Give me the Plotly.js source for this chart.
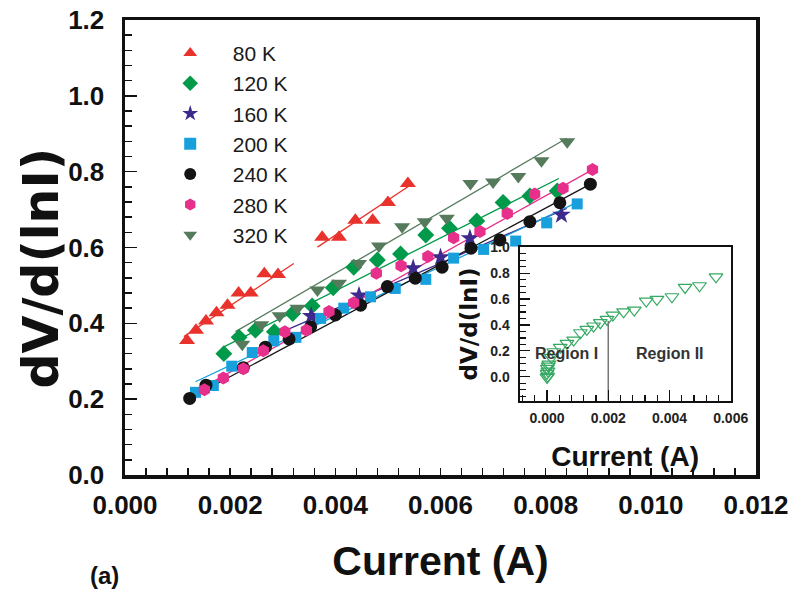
<!DOCTYPE html>
<html>
<head>
<meta charset="utf-8">
<script src="https://cdn.plot.ly/plotly-3.0.1.min.js"></script>
<style>
  html, body { margin: 0; padding: 0; background: #fff; }
  #chart { width: 795px; height: 592px; }
</style>
</head>
<body>
<div id="chart"></div>
<script>
// Differential resistance dV/d(lnI) versus current at seven temperatures
const temps = ['80 K', '120 K', '160 K', '200 K', '240 K', '280 K', '320 K'];

const I80  = [0.00118, 0.00135, 0.00154, 0.00174, 0.00195, 0.00216, 0.00239, 0.00265, 0.00291, 0.00375, 0.00407, 0.00438, 0.00471, 0.00500, 0.00538];
const V80  = [0.355, 0.382, 0.406, 0.428, 0.448, 0.480, 0.480, 0.531, 0.529, 0.627, 0.627, 0.672, 0.672, 0.719, 0.769];

const I120 = [0.00188, 0.00217, 0.00248, 0.00284, 0.00319, 0.00356, 0.00396, 0.00435, 0.00480, 0.00524, 0.00572, 0.00617, 0.00669, 0.00719, 0.00770, 0.00822];
const V120 = [0.320, 0.363, 0.382, 0.378, 0.426, 0.446, 0.494, 0.548, 0.567, 0.583, 0.633, 0.651, 0.670, 0.719, 0.736, 0.749];

const I160 = [0.00354, 0.00445, 0.00548, 0.00600, 0.00656, 0.00830];
const V160 = [0.419, 0.473, 0.545, 0.574, 0.624, 0.686];

const I200 = [0.00134, 0.00168, 0.00203, 0.00242, 0.00283, 0.00325, 0.00372, 0.00416, 0.00467, 0.00514, 0.00572, 0.00625, 0.00682, 0.00743, 0.00802, 0.00860];
const V200 = [0.218, 0.236, 0.287, 0.323, 0.354, 0.363, 0.413, 0.440, 0.470, 0.492, 0.516, 0.572, 0.595, 0.617, 0.665, 0.715];

const I240 = [0.00123, 0.00154, 0.00225, 0.00267, 0.00312, 0.00353, 0.00400, 0.00448, 0.00499, 0.00552, 0.00603, 0.00658, 0.00713, 0.00770, 0.00827, 0.00885];
const V240 = [0.202, 0.237, 0.283, 0.337, 0.359, 0.391, 0.422, 0.448, 0.497, 0.519, 0.548, 0.598, 0.620, 0.668, 0.718, 0.767];

const I280 = [0.00151, 0.00187, 0.00225, 0.00263, 0.00304, 0.00345, 0.00388, 0.00435, 0.00478, 0.00525, 0.00576, 0.00625, 0.00675, 0.00727, 0.00779, 0.00833, 0.00889];
const V280 = [0.225, 0.256, 0.280, 0.328, 0.378, 0.382, 0.431, 0.454, 0.532, 0.552, 0.576, 0.626, 0.642, 0.690, 0.741, 0.756, 0.806];

const I320 = [0.00223, 0.00259, 0.00294, 0.00328, 0.00366, 0.00407, 0.00445, 0.00483, 0.00527, 0.00570, 0.00612, 0.00657, 0.00700, 0.00748, 0.00792, 0.00841];
const V320 = [0.345, 0.396, 0.420, 0.440, 0.488, 0.506, 0.558, 0.604, 0.655, 0.668, 0.677, 0.769, 0.773, 0.787, 0.829, 0.879];

// Linear fits: [start, end] of each fitted segment
const fit80aI = [0.00112, 0.00321], fit80aV = [0.365, 0.558];
const fit80bI = [0.00366, 0.00543], fit80bV = [0.601, 0.765];
const fit120I = [0.00188, 0.00825], fit120V = [0.338, 0.782];
const fit160I = [0.00300, 0.00840], fit160V = [0.378, 0.703];
const fit200I = [0.00134, 0.00863], fit200V = [0.246, 0.721];
const fit240I = [0.00120, 0.00885], fit240V = [0.200, 0.767];
const fit280I = [0.00140, 0.00890], fit280V = [0.225, 0.806];
const fit320I = [0.00210, 0.00840], fit320V = [0.378, 0.888];

// Inset: full sweep at 320 K with the two conduction regions
const insetI = [0, 0.00002, 0, 0.00003, 0.00001, 0.00004, 0.00006, 0.00014, 0.00022, 0.00043, 0.00065, 0.00087, 0.00109, 0.00130, 0.00152, 0.00174, 0.00196, 0.00215, 0.00250, 0.00285, 0.00324, 0.00359, 0.00408, 0.00451, 0.00498, 0.00552];
const insetV = [-0.005, 0.005, 0.026, 0.044, 0.065, 0.082, 0.098, 0.150, 0.193, 0.227, 0.258, 0.283, 0.340, 0.366, 0.392, 0.418, 0.443, 0.476, 0.502, 0.515, 0.585, 0.598, 0.618, 0.690, 0.703, 0.772];
const regionBoundary = 0.002;
const regionBoundaryTop = 0.43;
const regionLabels = ['Region I', 'Region II'];
const regionLabelI = [0.00065, 0.00402];
const regionLabelV = 0.176;

const colors = ['#e8322b', '#009a4a', '#3d2a8c', '#18a0dc', '#141414', '#e6308c', '#567b5c'];
const symbols = ['triangle-up', 'diamond', 'star', 'square', 'circle', 'hexagon', 'triangle-down'];
const sizes = [14, 13, 14, 11, 13, 13, 14];

const seriesI = [I80, I120, I160, I200, I240, I280, I320];
const seriesV = [V80, V120, V160, V200, V240, V280, V320];
const fits = [
  [0, fit80aI, fit80aV], [0, fit80bI, fit80bV], [1, fit120I, fit120V], [2, fit160I, fit160V],
  [3, fit200I, fit200V], [4, fit240I, fit240V], [5, fit280I, fit280V], [6, fit320I, fit320V]
];

const BOLD = 'Liberation Sans, Arial, sans-serif';
const traces = [];

fits.forEach(([k, fx, fy]) => {
  traces.push({
    x: fx, y: fy, type: 'scatter', mode: 'lines', showlegend: false, hoverinfo: 'skip',
    line: { color: colors[k], width: 1.3 }, xaxis: 'x', yaxis: 'y'
  });
});

temps.forEach((name, k) => {
  traces.push({
    x: seriesI[k], y: seriesV[k], type: 'scatter', mode: 'markers', name: name,
    marker: { symbol: symbols[k], color: colors[k], size: sizes[k], line: { width: 0 } },
    xaxis: 'x', yaxis: 'y'
  });
});

traces.push({
  x: insetI, y: insetV, type: 'scatter', mode: 'markers', showlegend: false,
  marker: { symbol: 'triangle-down-open', color: '#35a862', size: 12, line: { width: 1.2 } },
  xaxis: 'x2', yaxis: 'y2'
});
traces.push({
  x: [regionBoundary, regionBoundary], y: [-0.185, regionBoundaryTop], type: 'scatter', mode: 'lines',
  showlegend: false, line: { color: '#777', width: 1.5 }, xaxis: 'x2', yaxis: 'y2'
});

const layout = {
  width: 795, height: 592,
  margin: { l: 124.5, r: 39, t: 20, b: 117, pad: 0 },
  paper_bgcolor: '#fff', plot_bgcolor: 'rgba(0,0,0,0)',
  showlegend: true,
  legend: {
    x: 0.036, y: 0.972, xanchor: 'left', yanchor: 'top',
    font: { family: 'Liberation Sans, Arial, sans-serif', size: 21, color: '#1a1a1a' },
    itemwidth: 75, itemsizing: 'constant', bgcolor: 'rgba(0,0,0,0)', borderwidth: 0, tracegroupgap: 0
  },
  xaxis: {
    domain: [0, 1], range: [0, 0.012], dtick: 0.002, tickformat: '.3f',
    ticks: 'inside', ticklen: 7, tickwidth: 1.5, tickcolor: '#111',
    minor: { dtick: 0.0004, ticks: 'inside', ticklen: 7, tickwidth: 1.5, tickcolor: '#111' },
    showline: true, linewidth: 3.5, linecolor: '#111', mirror: true,
    showgrid: false, zeroline: false, ticklabelstandoff: 4,
    tickfont: { family: BOLD, size: 26, weight: 'bold', color: '#111' },
    title: { text: 'Current (A)', font: { family: BOLD, size: 41, weight: 'bold', color: '#111' }, standoff: 28 }
  },
  yaxis: {
    domain: [0, 1], range: [0, 1.2], dtick: 0.2, tickformat: '.1f',
    ticks: 'inside', ticklen: 12, tickwidth: 1.5, tickcolor: '#111',
    minor: { dtick: 0.04, ticks: 'inside', ticklen: 7, tickwidth: 1.5, tickcolor: '#111' },
    showline: true, linewidth: 3.5, linecolor: '#111', mirror: true,
    showgrid: false, zeroline: false, ticklabelstandoff: 12,
    tickfont: { family: BOLD, size: 26, weight: 'bold', color: '#111' }
  },
  xaxis2: {
    domain: [0.6252, 0.9599], range: [-0.0009, 0.006], anchor: 'y2', dtick: 0.002, tickformat: '.3f',
    ticks: 'inside', ticklen: 11, tickwidth: 1.2, tickcolor: '#111',
    minor: { dtick: 0.0004, ticks: 'inside', ticklen: 6, tickwidth: 1.2, tickcolor: '#111' },
    showline: true, linewidth: 2, linecolor: '#111', mirror: true,
    showgrid: false, zeroline: false, ticklabelstandoff: 4,
    tickfont: { family: BOLD, size: 14, weight: 'bold', color: '#222' },
    title: { text: 'Current (A)', font: { family: BOLD, size: 28, weight: 'bold', color: '#111' }, standoff: 21 }
  },
  yaxis2: {
    domain: [0.1633, 0.5004], range: [-0.185, 1.0], anchor: 'x2', dtick: 0.2, tickformat: '.1f',
    ticks: 'inside', ticklen: 10, tickwidth: 1.2, tickcolor: '#111',
    minor: { dtick: 0.05, ticks: 'inside', ticklen: 6, tickwidth: 1.2, tickcolor: '#111' },
    showline: true, linewidth: 2, linecolor: '#111', mirror: true,
    showgrid: false, zeroline: false, ticklabelstandoff: 5,
    tickfont: { family: BOLD, size: 14, weight: 'bold', color: '#222' },
    title: { text: 'dV/d(lnI)', font: { family: 'DejaVu Sans, sans-serif', size: 23, weight: 'bold', color: '#111' }, standoff: 6 }
  },
  shapes: [{
    type: 'rect', xref: 'x2 domain', yref: 'y2 domain', x0: 0, x1: 1, y0: 0, y1: 1,
    fillcolor: '#fff', line: { width: 0 }, layer: 'below'
  }],
  annotations: [
    {
      text: 'dV/d(lnI)', xref: 'paper', yref: 'paper', x: -0.1322, y: 0.455, textangle: -90,
      showarrow: false, xanchor: 'center', yanchor: 'middle',
      font: { family: 'DejaVu Sans, sans-serif', size: 49, weight: 'bold', color: '#111' }
    },
    {
      text: '(a)', xref: 'paper', yref: 'paper', x: -0.0325, y: -0.2198,
      showarrow: false, xanchor: 'center', yanchor: 'middle',
      font: { family: BOLD, size: 24, weight: 'bold', color: '#111' }
    },
    ...regionLabels.map((t, i) => ({
      text: t, xref: 'x2', yref: 'y2', x: regionLabelI[i], y: regionLabelV,
      showarrow: false, xanchor: 'center', yanchor: 'middle',
      font: { family: BOLD, size: 16, weight: 'bold', color: '#333' }
    }))
  ]
};

Plotly.newPlot('chart', traces, layout, { displayModeBar: false, staticPlot: true });
</script>
</body>
</html>
